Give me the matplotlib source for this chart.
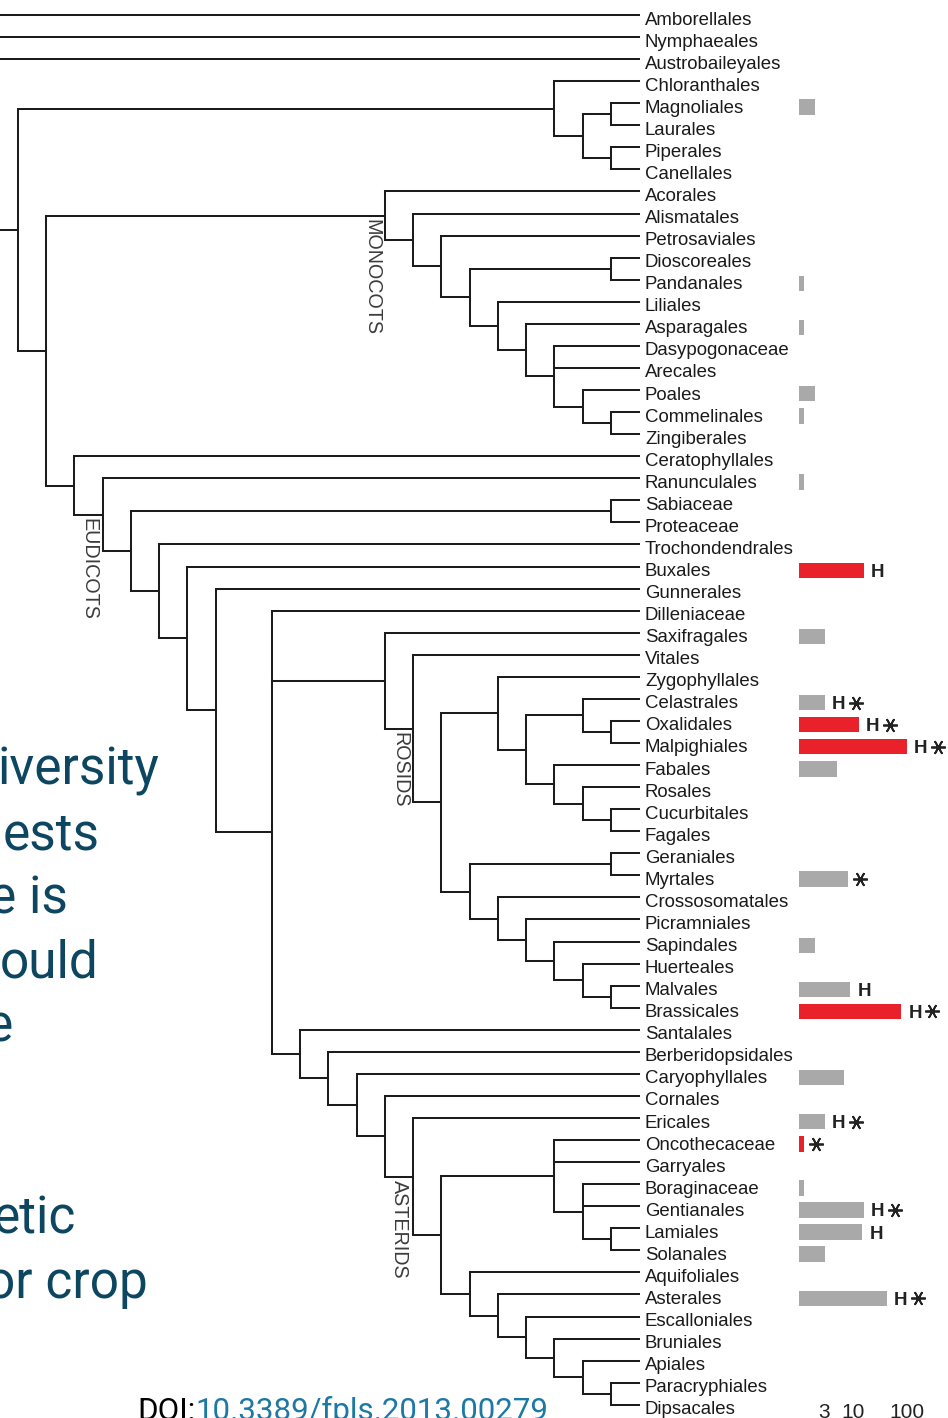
import matplotlib
matplotlib.use("Agg")
import matplotlib.pyplot as plt
from matplotlib.collections import LineCollection
from matplotlib.ticker import NullLocator
from matplotlib.transforms import offset_copy
from matplotlib import font_manager


def N(level, *children, label=None):
    """Internal node: level counts branch steps back from the tips."""
    return (level, list(children), label)


# ---- order-level angiosperm tree ----
magnoliids = N(3, "Chloranthales",
               N(2, N(1, "Magnoliales", "Laurales"), N(1, "Piperales", "Canellales")))
monocots = N(9, "Acorales",
             N(8, "Alismatales",
               N(7, "Petrosaviales",
                 N(6, N(1, "Dioscoreales", "Pandanales"),
                   N(5, "Liliales",
                     N(4, "Asparagales",
                       N(3, "Dasypogonaceae", "Arecales",
                         N(2, "Poales", N(1, "Commelinales", "Zingiberales")))))))),
             label="MONOCOTS")
fabids = N(5, "Zygophyllales",
           N(4, N(2, "Celastrales", N(1, "Oxalidales", "Malpighiales")),
             N(3, "Fabales", N(2, "Rosales", N(1, "Cucurbitales", "Fagales")))))
malvids = N(6, N(1, "Geraniales", "Myrtales"),
            N(5, "Crossosomatales",
              N(4, "Picramniales",
                N(3, "Sapindales",
                  N(2, "Huerteales", N(1, "Malvales", "Brassicales"))))))
rosids = N(9, "Saxifragales", N(8, "Vitales", N(7, fabids, malvids), label="ROSIDS"))
lamiids = N(3, "Oncothecaceae", "Garryales",
            N(2, "Boraginaceae", "Gentianales", N(1, "Lamiales", "Solanales")))
campanulids = N(6, "Aquifoliales",
                N(5, "Asterales",
                  N(4, "Escalloniales",
                    N(3, "Bruniales",
                      N(2, "Apiales", N(1, "Paracryphiales", "Dipsacales"))))))
superasterids = N(12, "Santalales",
                  N(11, "Berberidopsidales",
                    N(10, "Caryophyllales",
                      N(9, "Cornales",
                        N(8, "Ericales", N(7, lamiids, campanulids), label="ASTERIDS")))))
eudicots = N(19, "Ranunculales",
             N(18, N(1, "Sabiaceae", "Proteaceae"),
               N(17, "Trochondendrales",
                 N(16, "Buxales",
                   N(15, "Gunnerales",
                     N(13, "Dilleniaceae", rosids, superasterids))))),
             label="EUDICOTS")
tree = N(25, "Amborellales",
         N(24, "Nymphaeales",
           N(23, "Austrobaileyales",
             N(22, magnoliids, N(21, monocots, N(20, "Ceratophyllales", eudicots))))))

# ---- species counts per order (log bars) and flags ----
bar_orders = ["Magnoliales", "Pandanales", "Asparagales", "Poales", "Commelinales",
              "Ranunculales", "Buxales", "Saxifragales", "Celastrales", "Oxalidales",
              "Malpighiales", "Fabales", "Myrtales", "Sapindales", "Malvales",
              "Brassicales", "Caryophyllales", "Ericales", "Oncothecaceae",
              "Boraginaceae", "Gentianales", "Lamiales", "Solanales", "Asterales"]
bar_counts = [2, 1, 1, 2, 1,
              1, 16, 3, 3, 13,
              100, 5, 8, 2, 9,
              79, 7, 3, 1,
              1, 16, 15, 3, 43]
red_orders = {"Buxales", "Oxalidales", "Malpighiales", "Brassicales", "Oncothecaceae"}
h_orders = {"Buxales", "Celastrales", "Oxalidales", "Malpighiales", "Malvales",
            "Brassicales", "Ericales", "Gentianales", "Lamiales", "Asterales"}
star_orders = {"Celastrales", "Oxalidales", "Malpighiales", "Myrtales", "Brassicales",
               "Ericales", "Oncothecaceae", "Gentianales", "Asterales"}
axis_ticks = [3, 10, 100]

slide_lines = ["iversity", "ests", "e is", "ould", "e", "", "", "etic", "or crop"]
slide_right_px = [159, 100, 68, 99, 13, 0, 0, 76, 148]
doi_prefix = "DOI:"
doi_link = "10.3389/fpls.2013.00279"


def layout(node, leaves, segs, clades):
    if isinstance(node, str):
        leaves.append(node)
        return 0, len(leaves) - 1
    level, children, label = node
    ys = []
    for ch in children:
        ch_level, ch_y = layout(ch, leaves, segs, clades)
        segs.append([(level, ch_y), (ch_level, ch_y)])
        ys.append(ch_y)
    segs.append([(level, ys[0]), (level, ys[-1])])
    y = (ys[0] + ys[-1]) / 2
    if label:
        clades.append((label, level, y))
    return level, y


leaves, segs, clades = [], [], []
layout(tree, leaves, segs, clades)
row = {name: i for i, name in enumerate(leaves)}

W, H = 948, 1418
LEAF_PX, STEP_PX, TOP_PX, ROW_PX = 639, 28.23, 15, 22.06
BAR0_PX, DECADE_PX = 798.7, 54.1

installed = {f.name for f in font_manager.fontManager.ttflist}
if "Liberation Sans Narrow" in installed:
    clade_font, clade_size = "Liberation Sans Narrow", 17.4
else:
    clade_font, clade_size = "Liberation Sans", 14.2

fig = plt.figure(figsize=(W / 100, H / 100), dpi=100)
ax = fig.add_axes([0, 0, 1, 1])
ax.set_xlim(LEAF_PX / STEP_PX, (LEAF_PX - W) / STEP_PX)
ax.set_ylim((H - TOP_PX) / ROW_PX, -TOP_PX / ROW_PX)
ax.set_axis_off()

ax.add_collection(LineCollection(segs, colors="#1c1c1c", linewidths=1.45,
                                 capstyle="projecting"))

label_tf = offset_copy(ax.transData, fig=fig, x=6, y=-9.5, units="dots")
for i, name in enumerate(leaves):
    ax.text(0, i, name, transform=label_tf, ha="left", va="baseline",
            fontsize=13.4, family="Liberation Sans", color="#1a1a1a")

clade_tf = offset_copy(ax.transData, fig=fig, x=-4, y=-3, units="dots")
for label, level, y in clades:
    ax.text(level, y, label, transform=clade_tf, rotation=-90, ha="right", va="top",
            fontsize=clade_size, family=clade_font, color="#3c3c3c")

# ---- bar panel on a log scale, baseline at one species ----
bar_ax = fig.add_axes([BAR0_PX / W, 0, 1 - BAR0_PX / W, 1], sharey=ax)
bar_ax.set_xscale("log")
bar_ax.set_xlim(1, 10 ** ((W - BAR0_PX) / DECADE_PX))
bar_ax.patch.set_visible(False)
for sp in bar_ax.spines.values():
    sp.set_visible(False)

bar_y = [row[o] + 0.17 for o in bar_orders]
bar_right = [max(c, 1.24) for c in bar_counts]
bar_colors = ["#e8212b" if o in red_orders else "#a9a9a9" for o in bar_orders]
bar_ax.barh(bar_y, [r - 1 for r in bar_right], left=1, height=0.7, color=bar_colors)

h_tf = offset_copy(bar_ax.transData, fig=fig, x=7, y=-6.5, units="dots")
for o, y, r in zip(bar_orders, bar_y, bar_right):
    if o in h_orders:
        bar_ax.text(r, y, "H", transform=h_tf, ha="left", va="baseline",
                    fontsize=13.5, fontweight="bold", family="Liberation Sans",
                    color="#222222")
    if o in star_orders:
        dx = 31 if o in h_orders else 12
        star_tf = offset_copy(bar_ax.transData, fig=fig, x=dx, y=0, units="dots")
        bar_ax.plot([r], [y], marker=(6, 2, 90), ms=10.5, mew=1.3, color="#222222",
                    transform=star_tf, clip_on=False)

bar_ax.set_xticks(axis_ticks)
bar_ax.set_xticklabels([str(t) for t in axis_ticks], family="Liberation Sans")
bar_ax.xaxis.set_minor_locator(NullLocator())
bar_ax.tick_params(axis="x", length=0, pad=-11, labelsize=15, labelcolor="#222222")
bar_ax.tick_params(axis="y", left=False, labelleft=False)

# ---- slide text behind the figure ----
for i, (line, right) in enumerate(zip(slide_lines, slide_right_px)):
    if line:
        baseline = 785 + i * 64.1
        fig.text(right / W, 1 - baseline / H, line, ha="right", va="baseline",
                 fontsize=37, family="Roboto", color="#0d4661")

doi = fig.text(137 / W, 1 - 1420.5 / H, doi_prefix, ha="left", va="baseline",
               fontsize=22.5, family="Roboto", color="black")
ax.annotate(doi_link, xy=(1, 0), xycoords=doi, ha="left", va="bottom",
            fontsize=22.5, family="Roboto", color="#1d78a5")

fig.savefig("out.png", dpi=100, facecolor="white")
